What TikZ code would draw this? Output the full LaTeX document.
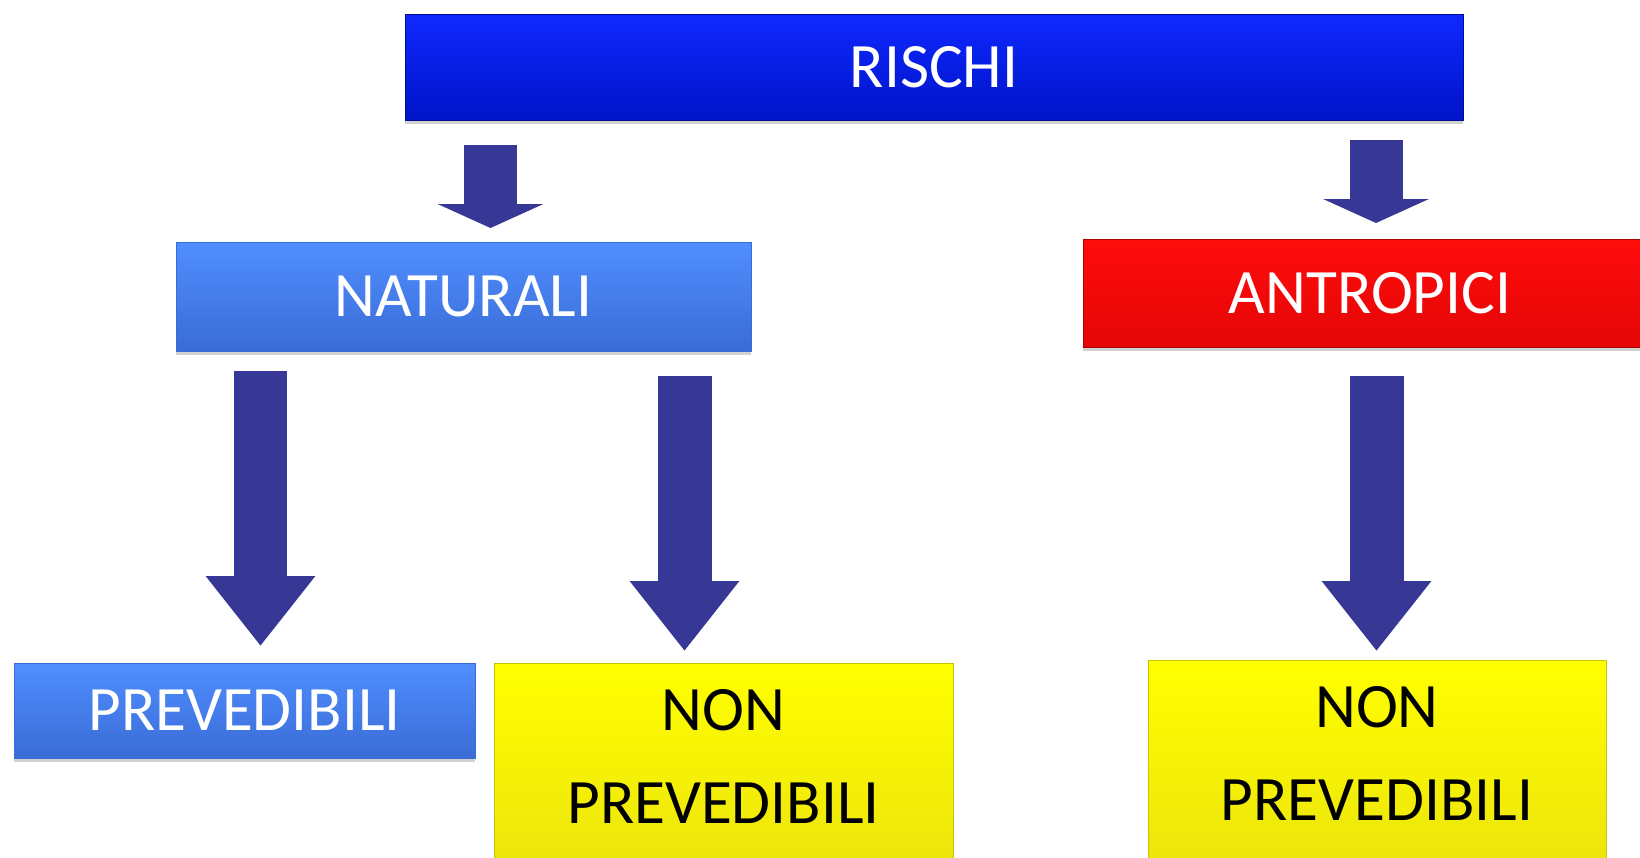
\documentclass[tikz,border=0pt]{standalone}
\usepackage{fontspec}
\setmainfont{Carlito}
\usetikzlibrary{arrows.meta, shadows}

\definecolor{freccia}{RGB}{55,55,150}
\definecolor{blutop}{RGB}{15,40,255}
\definecolor{blubot}{RGB}{0,20,200}
\definecolor{celtop}{RGB}{80,142,255}
\definecolor{celbot}{RGB}{58,108,214}
\definecolor{rostop}{RGB}{255,12,12}
\definecolor{rosbot}{RGB}{228,6,6}
\definecolor{giatop}{RGB}{255,255,0}
\definecolor{giabot}{RGB}{236,228,12}

\begin{document}
\begin{tikzpicture}[x=0.02cm, y=-0.02cm,
  casella/.style={rectangle, inner sep=0pt, align=center, font=\fontsize{36}{53}\selectfont,
    drop shadow={shadow xshift=0pt, shadow yshift=-2.5pt, opacity=.18, fill=black}},
  blu/.style={casella, text=white, top color=blutop, bottom color=blubot, draw=blubot!70!black},
  celeste/.style={casella, text=white, top color=celtop, bottom color=celbot, draw=celbot},
  rosso/.style={casella, text=white, top color=rostop, bottom color=rosbot, draw=rosbot!75!black},
  giallo/.style={casella, text=black, top color=giatop, bottom color=giabot, draw=giabot!85!black},
  corta/.style={draw=freccia, line width=1.06cm, -{Triangle[width=2.1cm, length=0.48cm]}},
  lunga/.style={draw=freccia, line width=1.08cm, -{Triangle[width=2.1cm, length=1.4cm]}}]

\useasboundingbox[fill=white] (0,0) rectangle (1640,858);
%\draw[step=100, gray!40] (0,0) grid (1640,858);

\node[blu, minimum width=21.16cm, minimum height=2.12cm] (rischi) at (934,67) {RISCHI};
\node[celeste, minimum width=11.5cm, minimum height=2.18cm] (naturali) at (463.5,296.5) {NATURALI};
\node[rosso, minimum width=11.48cm, minimum height=2.16cm] (antropici) at (1370,293) {ANTROPICI};
\node[celeste, minimum width=9.22cm, minimum height=1.9cm] (prev) at (244.5,710.5) {PREVEDIBILI};
\node[giallo, minimum width=9.18cm, minimum height=4.16cm] (nonprevnat) at (723.5,767)
  {NON\\PREVEDIBILI\rule[-12pt]{0pt}{12pt}};
\node[giallo, minimum width=9.16cm, minimum height=4.16cm] (nonprevant) at (1377,764)
  {NON\\PREVEDIBILI\rule[-12pt]{0pt}{12pt}};

% frecce
\coordinate (r1) at (490.5,145);  \coordinate (n1) at (490.5,228);
\coordinate (r2) at (1376,140);   \coordinate (a2) at (1376,223);
\coordinate (n3) at (260.5,371);  \coordinate (p3) at (260.5,646);
\coordinate (n4) at (684.5,376);  \coordinate (p4) at (684.5,651);
\coordinate (a5) at (1376.5,376); \coordinate (p5) at (1376.5,651);

\draw[corta] (r1)--(n1);
\draw[corta] (r2)--(a2);
\draw[lunga] (n3)--(p3);
\draw[lunga] (n4)--(p4);
\draw[lunga] (a5)--(p5);

\end{tikzpicture}
\end{document}
